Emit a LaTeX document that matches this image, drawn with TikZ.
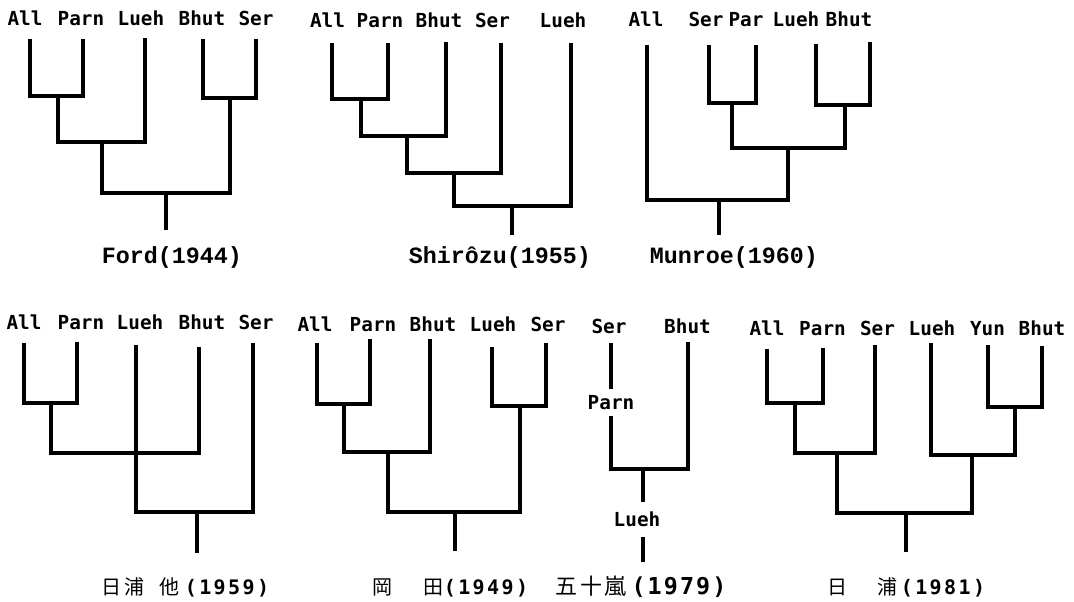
\documentclass[tikz,border=0pt]{standalone}
\usepackage{fontspec}
\newfontfamily\labfont{DejaVu Sans Mono}
\newfontfamily\capfont{Liberation Mono}
\newfontfamily\cjkfont{Noto Sans CJK JP}
\newfontfamily\digfont[LetterSpace=12]{DejaVu Sans Mono}
\newfontfamily\digfontw[LetterSpace=9]{DejaVu Sans Mono}
\begin{document}
\begin{tikzpicture}[x=0.75pt,y=-0.75pt,
  br/.style={line width=2.3pt, line join=miter},
  lab/.style={font=\labfont\bfseries\fontsize{14.5}{17}\selectfont, anchor=base, inner sep=0pt},
  capt/.style={font=\capfont\bfseries\fontsize{17.5}{20}\selectfont, anchor=base, inner sep=0pt},
  kj/.style={font=\cjkfont\fontsize{15}{18}\selectfont, anchor=base, inner sep=0pt},
  kjw/.style={font=\cjkfont\fontsize{16.5}{19}\selectfont, anchor=base, inner sep=0pt},
  dg/.style={font=\digfont\bfseries\fontsize{15}{18}\selectfont, anchor=base, inner sep=0pt},
  dgw/.style={font=\digfontw\bfseries\fontsize{17.5}{20}\selectfont, anchor=base, inner sep=0pt},
]
\fill[white] (0,0) rectangle (1074,602);
\useasboundingbox (0,0) rectangle (1074,602);

% ---------------- Tree 1: Ford (1944)
\node[lab] (t1a) at (25,26) {All};
\node[lab] (t1b) at (81,26) {Parn};
\node[lab] (t1c) at (141,26) {Lueh};
\node[lab] (t1d) at (202,26) {Bhut};
\node[lab] (t1e) at (256,26) {Ser};
\coordinate (a1) at (30,39);
\coordinate (b1) at (83,39);
\coordinate (c1) at (145,38);
\coordinate (d1) at (203,39);
\coordinate (e1) at (256,39);
\coordinate (n11) at (58,96);
\coordinate (n12) at (102,142);
\coordinate (m11) at (230,98);
\coordinate (r1) at (166,193);
\coordinate (r1s) at (166,230);
\begin{scope}[br, line width=2.6pt]
\draw (a1) |- (n11) -| (b1);
\draw (n11) |- (n12) -| (c1);
\draw (d1) |- (m11) -| (e1);
\draw (n12) |- (r1) -| (m11);
\draw (r1) -- (r1s);
\end{scope}
\node[capt] (cap1) at (172,264) {Ford(1944)};

% ---------------- Tree 2: Shirozu (1955)
\node[lab] (t2a) at (327.5,28) {All};
\node[lab] (t2b) at (380,28) {Parn};
\node[lab] (t2c) at (439,28) {Bhut};
\node[lab] (t2d) at (492.5,28) {Ser};
\node[lab] (t2e) at (563,28) {Lueh};
\coordinate (a2) at (332,43);
\coordinate (b2) at (388,43);
\coordinate (c2) at (446,42);
\coordinate (d2) at (501,43);
\coordinate (e2) at (571,43);
\coordinate (n21) at (361,99);
\coordinate (n22) at (407,136);
\coordinate (n23) at (454,173);
\coordinate (r2) at (512,206);
\coordinate (r2s) at (512,235);
\begin{scope}[br]
\draw (a2) |- (n21) -| (b2);
\draw (n21) |- (n22) -| (c2);
\draw (n22) |- (n23) -| (d2);
\draw (n23) |- (r2) -| (e2);
\draw (r2) -- (r2s);
\end{scope}
\node[capt] (cap2) at (500,264) {Shirôzu(1955)};

% ---------------- Tree 3: Munroe (1960)
\node[lab] (t3a) at (646,27) {All};
\node[lab] (t3b) at (706,27) {Ser};
\node[lab] (t3c) at (746,27) {Par};
\node[lab] (t3d) at (796,27) {Lueh};
\node[lab] (t3e) at (849,27) {Bhut};
\coordinate (a3) at (647,45);
\coordinate (b3) at (709,45);
\coordinate (c3) at (756,45);
\coordinate (d3) at (816,44);
\coordinate (e3) at (870,42);
\coordinate (n31) at (732,103);
\coordinate (n32) at (845,105);
\coordinate (n33) at (788,148);
\coordinate (r3) at (719,200);
\coordinate (r3s) at (719,235);
\begin{scope}[br]
\draw (b3) |- (n31) -| (c3);
\draw (d3) |- (n32) -| (e3);
\draw (n31) |- (n33) -| (n32);
\draw (a3) |- (r3) -| (n33);
\draw (r3) -- (r3s);
\end{scope}
\node[capt] (cap3) at (734,264) {Munroe(1960)};

% ---------------- Tree 4: Hiura et al. (1959)
\node[lab] (t4a) at (24,329) {All};
\node[lab] (t4b) at (81,329) {Parn};
\node[lab] (t4c) at (140,329) {Lueh};
\node[lab] (t4d) at (202,329) {Bhut};
\node[lab] (t4e) at (256,329) {Ser};
\coordinate (a4) at (24,343);
\coordinate (b4) at (77,342);
\coordinate (c4) at (136,345);
\coordinate (d4) at (199,347);
\coordinate (e4) at (253,343);
\coordinate (n41) at (51,403);
\coordinate (n42) at (136,453);
\coordinate (r4) at (197,512);
\coordinate (r4s) at (197,553);
\begin{scope}[br]
\draw (a4) |- (n41) -| (b4);
\draw (n41) |- (n42) -| (d4);
\draw (c4) |- (r4) -| (e4);
\draw (r4) -- (r4s);
\end{scope}
\node[kj] (k41) at (111.5,594) {日};
\node[kj] (k42) at (134.5,594) {浦};
\node[kj] (k43) at (169,594) {他};
\node[dg] (y4) at (227,594) {(1959)};

% ---------------- Tree 5: Oka-da (1949)
\node[lab] (t5a) at (315,331) {All};
\node[lab] (t5b) at (373,331) {Parn};
\node[lab] (t5c) at (433,331) {Bhut};
\node[lab] (t5d) at (493,331) {Lueh};
\node[lab] (t5e) at (548,331) {Ser};
\coordinate (a5) at (317,343);
\coordinate (b5) at (370,339);
\coordinate (c5) at (430,339);
\coordinate (d5) at (492,347);
\coordinate (e5) at (546,343);
\coordinate (n51) at (344,404);
\coordinate (n52) at (388,452);
\coordinate (m51) at (520,406);
\coordinate (r5) at (455,512);
\coordinate (r5s) at (455,551);
\begin{scope}[br]
\draw (a5) |- (n51) -| (b5);
\draw (n51) |- (n52) -| (c5);
\draw (d5) |- (m51) -| (e5);
\draw (n52) |- (r5) -| (m51);
\draw (r5) -- (r5s);
\end{scope}
\node[kj] (k51) at (382.5,594) {岡};
\node[kj] (k52) at (433.5,594) {田};
\node[dg] (y5) at (486,594) {(1949)};

% ---------------- Tree 6: Igarashi (1979)
\node[lab] (t6a) at (609,333) {Ser};
\node[lab] (t6b) at (687.5,333) {Bhut};
\node[lab, inner ysep=4.8pt] (p6) at (611,409.5) {Parn};
\node[lab, inner ysep=7.6pt] (l6) at (637,526.7) {Lueh};
\coordinate (s6) at (611,343);
\coordinate (b6) at (688,342);
\coordinate (n6) at (643,469);
\coordinate (r6s) at (643,562);
\begin{scope}[br]
\draw (s6) -- (p6);
\draw (p6) |- (n6) -| (b6);
\draw (n6) -- (n6 |- l6.north);
\draw (n6 |- l6.south) -- (r6s);
\end{scope}
\node[kjw] (k61) at (566.5,594) {五};
\node[kjw] (k62) at (591.5,594) {十};
\node[kjw] (k63) at (615,594) {嵐};
\node[dgw] (y6) at (679,594) {(1979)};

% ---------------- Tree 7: Hiura (1981)
\node[lab] (t7a) at (767,335) {All};
\node[lab] (t7b) at (822.5,335) {Parn};
\node[lab] (t7c) at (877.5,335) {Ser};
\node[lab] (t7d) at (932,335) {Lueh};
\node[lab] (t7e) at (987.5,335) {Yun};
\node[lab] (t7f) at (1042,335) {Bhut};
\coordinate (a7) at (767,349);
\coordinate (b7) at (823,348);
\coordinate (c7) at (875,345);
\coordinate (d7) at (931,343);
\coordinate (e7) at (988,345);
\coordinate (f7) at (1042,346);
\coordinate (n71) at (795,403);
\coordinate (n72) at (837,453);
\coordinate (m71) at (1015,407);
\coordinate (m72) at (972,455);
\coordinate (r7) at (906,513);
\coordinate (r7s) at (906,552);
\begin{scope}[br]
\draw (a7) |- (n71) -| (b7);
\draw (n71) |- (n72) -| (c7);
\draw (e7) |- (m71) -| (f7);
\draw (d7) |- (m72) -| (m71);
\draw (n72) |- (r7) -| (m72);
\draw (r7) -- (r7s);
\end{scope}
\node[kj] (k71) at (837.5,594) {日};
\node[kj] (k72) at (887.5,594) {浦};
\node[dg] (y7) at (943,594) {(1981)};
\end{tikzpicture}
\end{document}
